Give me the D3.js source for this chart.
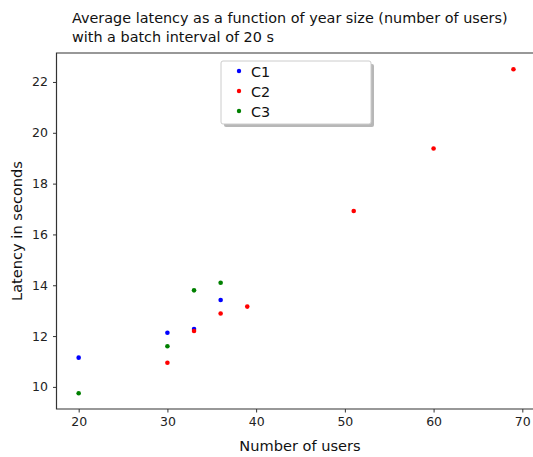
<!DOCTYPE html>
<html>
<head>
<meta charset="utf-8">
<script src="https://cdn.jsdelivr.net/npm/d3@7"></script>
<style>
  body { margin: 0; padding: 0; background: white; }
  text { font-family: "DejaVu Sans", sans-serif; }
</style>
</head>
<body>
<div id="chart"></div>
<script>
const width = 533;
const height = 457;

// data
const c1Users = [20, 30, 33, 36];
const c1Latency = [11.15, 12.13, 12.28, 13.42];
const c2Users = [30, 33, 36, 39, 51, 60, 69];
const c2Latency = [10.95, 12.2, 12.89, 13.16, 16.92, 19.38, 22.5];
const c3Users = [20, 30, 33, 36];
const c3Latency = [9.75, 11.6, 13.8, 14.1];
const seriesNames = ["C1", "C2", "C3"];
const seriesColors = ["#0000ff", "#ff0000", "#008000"];
const xTicks = [20, 30, 40, 50, 60, 70];
const yTicks = [10, 12, 14, 16, 18, 20, 22];

const series = [
  { name: seriesNames[0], color: seriesColors[0], xs: c1Users, ys: c1Latency },
  { name: seriesNames[1], color: seriesColors[1], xs: c2Users, ys: c2Latency },
  { name: seriesNames[2], color: seriesColors[2], xs: c3Users, ys: c3Latency },
];

// plot area (right side runs past the window edge, like the original)
const plotLeft = 56.5, plotTop = 53, plotW = 488, plotH = 356;

const svg = d3.select("#chart")
  .append("svg")
  .attr("width", width)
  .attr("height", height);

const x = d3.scaleLinear().domain([17.5, 72.5]).range([plotLeft, plotLeft + plotW]);
const y = d3.scaleLinear().domain([9.13, 23.14]).range([plotTop + plotH, plotTop]);

// title
const title = svg.append("text")
  .attr("x", 72)
  .attr("y", 23)
  .style("font-size", "14.4px")
  .style("fill", "#111");
title.append("tspan").attr("x", 72).text("Average latency as a function of year size (number of users)");
title.append("tspan").attr("x", 72).attr("dy", 19).text("with a batch interval of 20 s");

// axes
const xAxis = svg.append("g")
  .attr("transform", "translate(0," + (plotTop + plotH) + ")")
  .call(d3.axisBottom(x).tickValues(xTicks).tickSize(3.5).tickPadding(5));
const yAxis = svg.append("g")
  .attr("transform", "translate(" + plotLeft + ",0)")
  .call(d3.axisLeft(y).tickValues(yTicks).tickSize(3.5).tickPadding(5));

[xAxis, yAxis].forEach(function (a) {
  a.select(".domain").remove();
  a.selectAll("line").attr("stroke", "#333").attr("stroke-width", 1);
  a.selectAll("text")
    .style("font-family", "DejaVu Sans, sans-serif")
    .style("font-size", "12.5px")
    .style("fill", "#222");
});

// spines: left, bottom, top
svg.append("path")
  .attr("d", "M" + (plotLeft + plotW) + "," + plotTop + "H" + plotLeft + "V" + (plotTop + plotH) + "H" + (plotLeft + plotW))
  .attr("fill", "none")
  .attr("stroke", "#333")
  .attr("stroke-width", 1.2);

// points
series.forEach(function (s) {
  svg.append("g")
    .selectAll("circle")
    .data(s.xs.map((v, i) => [v, s.ys[i]]))
    .enter()
    .append("circle")
    .attr("cx", d => x(d[0]))
    .attr("cy", d => y(d[1]))
    .attr("r", 2.3)
    .style("fill", s.color);
});

// axis labels
svg.append("text")
  .attr("x", 300)
  .attr("y", 451)
  .attr("text-anchor", "middle")
  .style("font-size", "14.6px")
  .style("fill", "#111")
  .text("Number of users");

svg.append("text")
  .attr("transform", "translate(22," + (plotTop + plotH / 2) + ") rotate(-90)")
  .attr("text-anchor", "middle")
  .style("font-size", "14.6px")
  .style("fill", "#111")
  .text("Latency in seconds");

// legend with shadow
const legend = svg.append("g").attr("transform", "translate(221,61)");
legend.append("rect")
  .attr("x", 3).attr("y", 3)
  .attr("width", 150).attr("height", 63)
  .attr("rx", 2)
  .style("fill", "#999")
  .style("opacity", 0.7);
legend.append("rect")
  .attr("width", 150).attr("height", 63)
  .attr("rx", 2)
  .style("fill", "white")
  .style("stroke", "#ccc");

legend.selectAll(".lg-dot")
  .data(series)
  .enter()
  .append("circle")
  .attr("cx", 18)
  .attr("cy", (d, i) => 10 + i * 20)
  .attr("r", 2.2)
  .style("fill", d => d.color);

legend.selectAll(".lg-text")
  .data(series)
  .enter()
  .append("text")
  .attr("x", 30)
  .attr("y", (d, i) => 16 + i * 20)
  .style("font-size", "14.4px")
  .style("fill", "#111")
  .text(d => d.name);
</script>
</body>
</html>
